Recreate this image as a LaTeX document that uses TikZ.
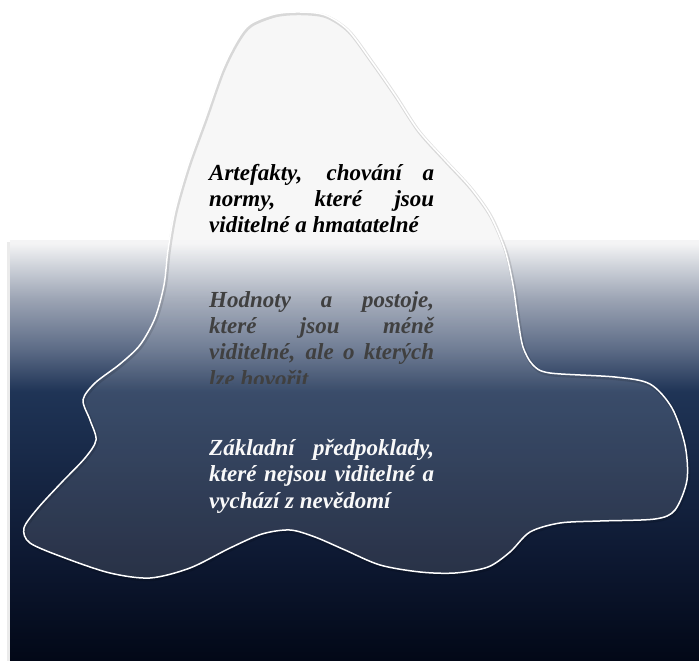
\documentclass[tikz,border=0pt]{standalone}
\usepackage{fontspec}
\setmainfont{Liberation Serif}
\usepackage{xcolor}
\usepackage{tikz}
\definecolor{seatop}{RGB}{244,244,245}
\definecolor{sealight}{RGB}{208,212,219}
\definecolor{seagray}{RGB}{156,164,180}
\definecolor{seamid}{RGB}{92,107,134}
\definecolor{seadeep}{RGB}{31,52,86}
\definecolor{seanight}{RGB}{13,24,49}
\definecolor{seabottom}{RGB}{2,8,23}
\definecolor{icetop}{RGB}{246,246,246}
\definecolor{hintgray}{RGB}{64,64,64}
\pgfdeclareverticalshading{sea}{100bp}{color(0bp)=(seabottom); color(25bp)=(seabottom);
  color(37bp)=(seanight); color(57bp)=(seadeep); color(62bp)=(seamid);
  color(68bp)=(seagray); color(72bp)=(sealight); color(74.6bp)=(seatop); color(100bp)=(seatop)}
\newcommand{\nohyph}{\hyphenpenalty=10000 \exhyphenpenalty=10000 \relax}
\newcommand{\icebergpath}{plot[smooth cycle,tension=0.5] coordinates {
  (275,14) (300,12) (325,15) (348,30) (372,62) (395,95) (418,130) (445,160)
  (470,187) (490,215) (505,250) (513,285) (518,320) (523,347) (533,365)
  (550,373) (615,377) (650,384) (672,408) (685,445) (687,480) (675,510)
  (655,519) (600,521) (560,523) (530,532) (510,552) (488,567) (455,573)
  (420,572) (380,565) (345,550) (315,537) (290,530) (262,534) (230,548)
  (190,568) (150,578) (110,573) (65,558) (30,543) (24,528) (38,508)
  (62,482) (85,458) (96,440) (90,420) (83,400) (95,383) (120,364)
  (140,345) (155,318) (164,285) (168,250) (175,210) (188,165) (205,118)
  (222,70) (237,40) (250,24)}}

\begin{document}
\begin{tikzpicture}[x=1pt,y=-1pt,
  layer/.style={anchor=north west,inner sep=0pt,text width=225pt,align=justify,
                font=\fontsize{23}{26.3}\selectfont\bfseries\itshape\nohyph},
  outline/.style={draw=white,line width=1.5pt},
  glow/.style={draw=black,opacity=0.12,line width=3.5pt}]
  \useasboundingbox (0,0) rectangle (699,661);

  % Iceberg above the water line
  \fill[icetop] \icebergpath;

  % Sea
  \fill[black,opacity=0.08] (7,242) rectangle (10,661);
  \fill[shading=sea] (10,240) rectangle (699,661);

  % Iceberg below the water line
  \fill[white,opacity=0.12] \icebergpath;
  \draw[glow,shift={(1pt,-1.5pt)}] \icebergpath;
  \draw[outline] \icebergpath;

  % Visible level
  \node[layer,text=black] (artefakty) at (209,164)
    {Artefakty, chování a\linebreak normy, které jsou\linebreak viditelné a hmatatelné};

  % Middle level (cut off at the bottom)
  \begin{scope}
    \clip (0,0) rectangle (699,383);
    \node[layer,text=hintgray] (hodnoty) at (209,291)
      {Hodnoty a postoje,\linebreak které jsou méně\linebreak viditelné, ale o kterých\linebreak lze hovořit};
  \end{scope}

  % Deep level
  \node[layer,text=white!95!gray] (predpoklady) at (209,439)
    {Základní předpoklady,\linebreak které nejsou viditelné a\linebreak vychází z nevědomí};

\end{tikzpicture}
\end{document}
